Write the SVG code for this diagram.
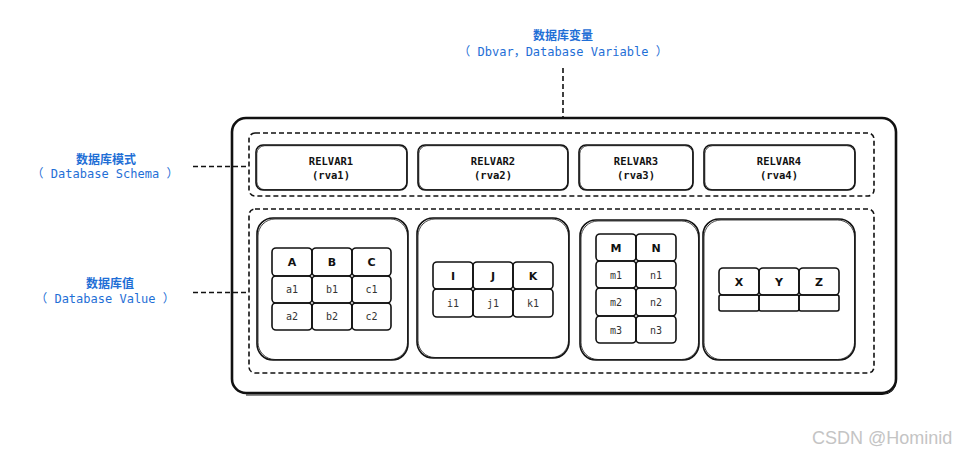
<svg xmlns="http://www.w3.org/2000/svg" width="961" height="455" viewBox="0 0 961 455">
<style>
.bg{fill:#fff}
.sk{fill:none;stroke:#111;stroke-width:1.6;stroke-linejoin:round}
.sk2{fill:none;stroke:#111;stroke-width:0.8;stroke-linejoin:round}
.dash{fill:none;stroke:#111;stroke-width:1.6;stroke-dasharray:5 3}
.lbl{font-family:"DejaVu Sans Mono","Noto Sans CJK SC",monospace;font-size:12px;fill:#1f6fd6;text-anchor:middle}
.cn{font-family:"Noto Sans CJK SC",sans-serif;font-size:12px;font-weight:bold;fill:#1f6fd6;text-anchor:middle}
.rv{font-family:"DejaVu Sans Mono",monospace;font-size:10.5px;font-weight:bold;fill:#111;text-anchor:middle}
.h{font-family:"DejaVu Sans",sans-serif;font-size:11px;font-weight:bold;fill:#111;text-anchor:middle}
.v{font-family:"DejaVu Sans Mono",monospace;font-size:10px;fill:#333;text-anchor:middle}
.wm{font-family:"Liberation Sans",Arial,sans-serif;font-size:18px;fill:#c4c4c4}
</style>
<rect class="bg" x="0" y="0" width="961" height="455"/>

<g id="labels">
<text class="cn" x="563" y="40">数据库变量</text>
<text class="lbl" x="563" y="56">（ Dbvar，Database Variable ）</text>
<text class="cn" x="106" y="164">数据库模式</text>
<text class="lbl" x="105" y="178">（ Database Schema ）</text>
<text class="cn" x="110" y="288">数据库值</text>
<text class="lbl" x="105" y="303">（ Database Value ）</text>
</g>

<g id="connectors">
<line class="dash" x1="563" y1="68" x2="563" y2="118"/>
<line class="dash" x1="193" y1="166.5" x2="249" y2="166.5"/>
<line class="dash" x1="193" y1="292.5" x2="249" y2="292.5"/>
</g>

<g id="database">
<rect x="232" y="118" width="664" height="275" rx="14" fill="none" stroke="#111" stroke-width="2.6"/>
<path d="M896 140 L896 380 Q896 394 882 394.5 L246 395" fill="none" stroke="#111" stroke-width="1"/>
</g>

<g id="schema">
<rect class="dash" x="249" y="133" width="625" height="63" rx="6"/>
</g>
<g id="value">
<rect class="dash" x="249" y="209" width="625" height="164" rx="6"/>
</g>

<g id="relvar1">
<rect class="sk" x="256" y="145" width="151" height="45" rx="7"/>
<rect class="sk2" x="256.8" y="145.7" width="150" height="44" rx="8"/>
<text class="rv" x="331" y="165">RELVAR1</text><text class="rv" x="331" y="179">(rva1)</text>
</g>
<g id="relvar2">
<rect class="sk" x="418" y="145" width="150" height="45" rx="7"/>
<rect class="sk2" x="418.8" y="145.7" width="149" height="44" rx="8"/>
<text class="rv" x="493" y="165">RELVAR2</text><text class="rv" x="493" y="179">(rva2)</text>
</g>
<g id="relvar3">
<rect class="sk" x="579" y="145" width="114" height="45" rx="7"/>
<rect class="sk2" x="579.8" y="145.7" width="113" height="44" rx="8"/>
<text class="rv" x="636" y="165">RELVAR3</text><text class="rv" x="636" y="179">(rva3)</text>
</g>
<g id="relvar4">
<rect class="sk" x="704" y="145" width="151" height="45" rx="7"/>
<rect class="sk2" x="704.8" y="145.7" width="150" height="44" rx="8"/>
<text class="rv" x="779" y="165">RELVAR4</text><text class="rv" x="779" y="179">(rva4)</text>
</g>

<g id="rva1">
<rect class="sk" x="257" y="218" width="151" height="142" rx="16"/>
<rect class="sk2" x="258" y="219" width="149.5" height="140.5" rx="17"/>
<rect class="sk" x="272" y="248" width="40" height="28" rx="4"/><rect class="sk" x="312" y="248" width="40" height="28" rx="4"/><rect class="sk" x="352" y="248" width="39" height="28" rx="4"/>
<rect class="sk" x="272" y="276" width="40" height="27" rx="4"/><rect class="sk" x="312" y="276" width="40" height="27" rx="4"/><rect class="sk" x="352" y="276" width="39" height="27" rx="4"/>
<rect class="sk" x="272" y="303" width="40" height="27" rx="4"/><rect class="sk" x="312" y="303" width="40" height="27" rx="4"/><rect class="sk" x="352" y="303" width="39" height="27" rx="4"/>
<text class="h" x="292" y="266">A</text><text class="h" x="332" y="266">B</text><text class="h" x="371.5" y="266">C</text>
<text class="v" x="292" y="293">a1</text><text class="v" x="332" y="293">b1</text><text class="v" x="371.5" y="293">c1</text>
<text class="v" x="292" y="320">a2</text><text class="v" x="332" y="320">b2</text><text class="v" x="371.5" y="320">c2</text>
</g>

<g id="rva2">
<rect class="sk" x="417" y="218" width="152" height="140" rx="16"/>
<rect class="sk2" x="418" y="219" width="150.5" height="138.5" rx="17"/>
<rect class="sk" x="433" y="262" width="40" height="27" rx="4"/><rect class="sk" x="473" y="262" width="40" height="27" rx="4"/><rect class="sk" x="513" y="262" width="40" height="27" rx="4"/>
<rect class="sk" x="433" y="289" width="40" height="28" rx="4"/><rect class="sk" x="473" y="289" width="40" height="28" rx="4"/><rect class="sk" x="513" y="289" width="40" height="28" rx="4"/>
<text class="h" x="453" y="280">I</text><text class="h" x="493" y="280">J</text><text class="h" x="533" y="280">K</text>
<text class="v" x="453" y="307">i1</text><text class="v" x="493" y="307">j1</text><text class="v" x="533" y="307">k1</text>
</g>

<g id="rva3">
<rect class="sk" x="580" y="220" width="119" height="140" rx="16"/>
<rect class="sk2" x="581" y="221" width="117.5" height="138.5" rx="17"/>
<rect class="sk" x="596" y="234" width="40" height="27" rx="4"/><rect class="sk" x="636" y="234" width="40" height="27" rx="4"/>
<rect class="sk" x="596" y="261" width="40" height="27" rx="4"/><rect class="sk" x="636" y="261" width="40" height="27" rx="4"/>
<rect class="sk" x="596" y="288" width="40" height="28" rx="4"/><rect class="sk" x="636" y="288" width="40" height="28" rx="4"/>
<rect class="sk" x="596" y="316" width="40" height="27" rx="4"/><rect class="sk" x="636" y="316" width="40" height="27" rx="4"/>
<text class="h" x="616" y="252">M</text><text class="h" x="656" y="252">N</text>
<text class="v" x="616" y="279">m1</text><text class="v" x="656" y="279">n1</text>
<text class="v" x="616" y="306">m2</text><text class="v" x="656" y="306">n2</text>
<text class="v" x="616" y="334">m3</text><text class="v" x="656" y="334">n3</text>
</g>

<g id="rva4">
<rect class="sk" x="703" y="219" width="152" height="141" rx="16"/>
<rect class="sk2" x="704" y="220" width="150.5" height="139.5" rx="17"/>
<rect class="sk" x="719" y="268" width="40" height="27" rx="4"/><rect class="sk" x="759" y="268" width="40" height="27" rx="4"/><rect class="sk" x="799" y="268" width="40" height="27" rx="4"/>
<rect class="sk" x="719" y="295" width="40" height="16" rx="2"/><rect class="sk" x="759" y="295" width="40" height="16" rx="2"/><rect class="sk" x="799" y="295" width="40" height="16" rx="2"/>
<text class="h" x="739" y="286">X</text><text class="h" x="779" y="286">Y</text><text class="h" x="819" y="286">Z</text>
</g>

<text class="wm" x="812" y="444">CSDN @Hominid</text>
</svg>
